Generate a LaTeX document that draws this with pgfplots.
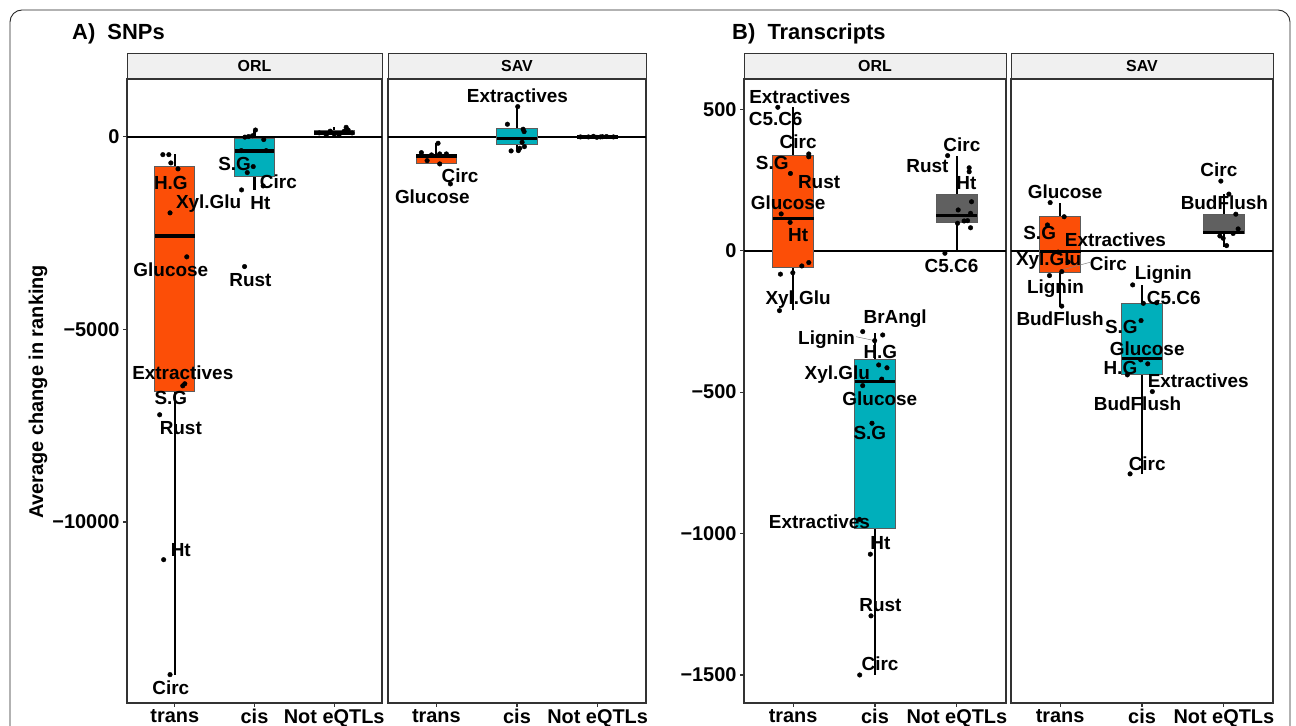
\documentclass[border=0pt]{standalone}
\usepackage{pgfplots}
\pgfplotsset{compat=1.18}
\usepackage{fontspec}
\setmainfont{Liberation Sans}
\definecolor{ctrans}{HTML}{FC4E07}
\definecolor{ccis}{HTML}{00AFBB}
\definecolor{cnot}{HTML}{606060}
\definecolor{stripbg}{HTML}{F0F0F0}
\definecolor{frame}{HTML}{333333}

\pgfplotsset{
  facet/.style={
    scale only axis, clip=false,
    xmin=0.4, xmax=3.6, scaled y ticks=false,
    xtick={1,2,3}, xticklabels={trans,cis,Not eQTLs},
    tick pos=left, tick align=outside, major tick length=4bp,
    axis line style={frame, line width=1.1bp},
    every tick/.style={frame, line width=1.1bp},
    tick label style={font=\bfseries\fontsize{20}{24}\selectfont, text=black},
    xticklabel style={yshift=1bp},
  },
  pts/.style={only marks, mark=*, mark size=2.3bp, black},
  zline/.style={black, line width=2.2bp},
}
\tikzset{strip/.style={fill=stripbg, draw=frame, line width=1bp},
  lbl/.style={font=\bfseries\fontsize{19}{22}\selectfont, inner sep=0pt, text=black}}
% box: position, left edge, right edge, lower whisker, Q1, median, Q3, upper whisker, fill
\newcommand{\bx}[9]{%
  \addplot[black, line width=2.2bp] coordinates {(#1,#4) (#1,#5)};
  \addplot[black, line width=2.2bp] coordinates {(#1,#7) (#1,#8)};
  \addplot[fill=#9, draw=frame!80, line width=1bp] coordinates {(#2,#5) (#3,#5) (#3,#7) (#2,#7)} -- cycle;
  \addplot[black, line width=3.2bp] coordinates {(#2,#6) (#3,#6)};
}

\begin{document}
\begin{tikzpicture}[x=1bp,y=1bp]
\useasboundingbox (0,0) rectangle (1296,726);
\draw[black!85, line width=0.9bp, rounded corners=12bp] (10,-30) -- (10,716) -- (1290,716) -- (1290,-30);

% ---------- A) SNPs, ORL ----------
\begin{axis}[facet, name=aorl, at={(127bp,23bp)}, anchor=south west, width=255bp, height=624bp,
  ymin=-14700, ymax=1505, ytick={-10000,-5000,0}, yticklabels={−10000,−5000,0}]
\addplot[zline] coordinates {(0.4,0) (3.6,0)};
\bx{1}{0.75}{1.25}{-13963}{-6623}{-2571}{-779}{-450}{ctrans}
\bx{2}{1.75}{2.25}{-1376}{-1030}{-363}{-52}{180}{ccis}
\bx{3}{2.75}{3.25}{0}{52}{104}{164}{268}{cnot}
\addplot[pts] coordinates {(0.85,-460) (0.925,-460) (0.95,-675) (1.04,-830) (0.94,-1972) (1.15,-3114) (1.125,-6410) (1.1,-6463) (0.81,-7215) (0.86,-10978) (0.94,-13963)};
\addplot[pts] coordinates {(1.879,-5) (1.925,10) (1.975,30) (2.0125,180) (2.116,-68) (1.834,-355) (2.146,-355) (1.984,-770) (1.909,-926) (1.8375,-1376) (1.875,-3366) (2.109,-1272)};
\addplot[pts] coordinates {(2.8125,104) (2.9,52) (3.0,78) (3.06,52) (3.125,148) (3.15,250) (3.175,180) (3.225,104) (2.95,150)};
\node[lbl] at (axis cs:0.95,-1194) {H.G};
\node[lbl] at (axis cs:1.425,-1739) {Xyl.Glu};
\node[lbl] at (axis cs:0.95,-3452) {Glucose};
\node[lbl] at (axis cs:1.1,-6125) {Extractives};
\node[lbl] at (axis cs:0.95,-6774) {S.G};
\node[lbl] at (axis cs:1.075,-7553) {Rust};
\node[lbl] at (axis cs:1.075,-10719) {Ht};
\node[lbl] at (axis cs:0.95,-14300) {Circ};
\node[lbl] at (axis cs:1.75,-701) {S.G};
\node[lbl] at (axis cs:2.3,-1168) {Circ};
\node[lbl] at (axis cs:2.075,-1713) {Ht};
\node[lbl] at (axis cs:1.95,-3711) {Rust};
\end{axis}

% ---------- A) SNPs, SAV ----------
\begin{axis}[facet, name=asav, at={(388bp,23bp)}, anchor=south west, width=258bp, height=624bp,
  ymin=-14700, ymax=1505, ytick=\empty]
\addplot[zline] coordinates {(0.4,0) (3.6,0)};
\bx{1}{0.75}{1.25}{-701}{-701}{-493}{-467}{-164}{ctrans}
\bx{2}{1.75}{2.25}{-363}{-190}{-34}{225}{787}{ccis}
\bx{3}{2.75}{3.25}{-20}{-8}{0}{10}{20}{cnot}
\addplot[pts] coordinates {(0.814,-407) (0.885,-615) (1.021,-164) (1.041,-441) (1.041,-701) (1.174,-1220) (0.94,-467) (1.124,-441)};
\addplot[pts] coordinates {(2.009,787) (1.881,330) (2.076,200) (2.088,138) (2.063,-138) (2.092,-252) (2.034,-294) (2.017,-355) (1.927,-363)};
\addplot[pts] coordinates {(2.787,0) (2.886,0) (2.948,15) (3.035,0) (3.11,10) (3.196,0) (2.99,-10) (3.06,5)};
\node[lbl] at (axis cs:1.294,-1004) {Circ};
\node[lbl] at (axis cs:0.95,-1565) {Glucose};
\node[lbl] at (axis cs:2.005,1064) {Extractives};
\end{axis}

% ---------- B) Transcripts, ORL ----------
\begin{axis}[facet, name=borl, at={(744bp,23bp)}, anchor=south west, width=262bp, height=624bp,
  ymin=-1599, ymax=607, ytick={-1500,-1000,-500,0,500}, yticklabels={−1500,−1000,−500,0,500}]
\addplot[zline] coordinates {(0.4,0) (3.6,0)};
\bx{1}{0.75}{1.25}{-210}{-60}{115}{338}{507}{ctrans}
\bx{2}{1.75}{2.25}{-1500}{-981}{-463}{-383}{-290}{ccis}
\bx{3}{2.75}{3.25}{0}{99}{123}{200}{335}{cnot}
\addplot[pts] coordinates {(0.813,507) (1.191,342) (1.191,332) (0.967,273) (0.854,130) (0.963,100) (1.191,-42) (1.106,-54) (0.845,-83) (0.996,-78) (0.833,-212)};
\addplot[pts] coordinates {(1.85,-286) (2.094,-298) (1.996,-318) (2.045,-404) (2.146,-414) (2.082,-454) (1.85,-477) (1.963,-610) (1.81,-950) (1.943,-1073) (1.951,-1291) (1.813,-1500)};
\addplot[pts] coordinates {(2.887,336) (3.15,293) (3.15,279) (3.179,173) (3.016,144) (3.167,132) (3.008,97) (3.088,105) (3.13,106) (3.167,81) (2.854,-9)};
\addplot[gray, line width=0.5bp] coordinates {(1.768,-304) (1.996,-318)};
\node[lbl] at (axis cs:1.082,544) {Extractives};
\node[lbl] at (axis cs:0.787,466) {C5.C6};
\node[lbl] at (axis cs:1.061,385) {Circ};
\node[lbl] at (axis cs:0.744,311) {S.G};
\node[lbl] at (axis cs:1.317,244) {Rust};
\node[lbl] at (axis cs:0.939,170) {Glucose};
\node[lbl] at (axis cs:1.061,56) {Ht};
\node[lbl] at (axis cs:1.061,-172) {Xyl.Glu};
\node[lbl] at (axis cs:2.246,-239) {BrAngl};
\node[lbl] at (axis cs:1.409,-313) {Lignin};
\node[lbl] at (axis cs:2.065,-359) {H.G};
\node[lbl] at (axis cs:1.54,-439) {Xyl.Glu};
\node[lbl] at (axis cs:2.059,-522) {Glucose};
\node[lbl] at (axis cs:1.937,-646) {S.G};
\node[lbl] at (axis cs:1.321,-958) {Extractives};
\node[lbl] at (axis cs:2.065,-1034) {Ht};
\node[lbl] at (axis cs:2.067,-1253) {Rust};
\node[lbl] at (axis cs:2.061,-1461) {Circ};
\node[lbl] at (axis cs:3.061,374) {Circ};
\node[lbl] at (axis cs:2.64,299) {Rust};
\node[lbl] at (axis cs:3.116,238) {Ht};
\node[lbl] at (axis cs:2.935,-53) {C5.C6};
\end{axis}

% ---------- B) Transcripts, SAV ----------
\begin{axis}[facet, name=bsav, at={(1011bp,23bp)}, anchor=south west, width=262bp, height=624bp,
  ymin=-1599, ymax=607, ytick=\empty]
\addplot[zline] coordinates {(0.4,0) (3.6,0)};
\bx{1}{0.75}{1.25}{-198}{-77}{-3}{120}{168}{ctrans}
\bx{2}{1.75}{2.25}{-790}{-439}{-380}{-186}{-121}{ccis}
\bx{3}{2.75}{3.25}{14}{61}{64}{129}{200}{cnot}
\addplot[pts] coordinates {(0.878,170) (1.049,120) (0.845,91) (1.02,-74) (0.87,-88) (1.02,-196) (0.976,-5) (1.098,-40)};
\addplot[pts] coordinates {(1.886,-121) (2.016,-186) (2.179,-184) (1.988,-247) (1.984,-386) (1.821,-439) (2.126,-498) (1.854,-789) (2.07,-400)};
\addplot[pts] coordinates {(2.963,246) (3.061,200) (3.146,129) (3.174,77) (2.951,52) (2.991,44) (3.113,61) (3.033,18)};
\addplot[gray, line width=0.5bp] coordinates {(1.366,-41) (1.02,-68)};
\node[lbl] at (axis cs:1.061,209) {Glucose};
\node[lbl] at (axis cs:0.75,61) {S.G};
\node[lbl] at (axis cs:1.675,38) {Extractives};
\node[lbl] at (axis cs:0.86,-35) {Xyl.Glu};
\node[lbl] at (axis cs:1.589,-47) {Circ};
\node[lbl] at (axis cs:0.943,-133) {Lignin};
\node[lbl] at (axis cs:1.0,-239) {BudFlush};
\node[lbl] at (axis cs:2.26,-86) {Lignin};
\node[lbl] at (axis cs:2.387,-168) {C5.C6};
\node[lbl] at (axis cs:1.748,-269) {S.G};
\node[lbl] at (axis cs:2.063,-345) {Glucose};
\node[lbl] at (axis cs:1.736,-416) {H.G};
\node[lbl] at (axis cs:2.687,-460) {Extractives};
\node[lbl] at (axis cs:1.945,-542) {BudFlush};
\node[lbl] at (axis cs:2.063,-752) {Circ};
\node[lbl] at (axis cs:2.939,285) {Circ};
\node[lbl] at (axis cs:3.006,168) {BudFlush};
\end{axis}

% ---------- strips ----------
\foreach \ax/\txt in {aorl/ORL, asav/SAV, borl/ORL, bsav/SAV}{
  \draw[strip] (\ax.north west) rectangle ([yshift=25bp]\ax.north east);
  \node[font=\bfseries\fontsize{16}{18}\selectfont, inner sep=0pt] at ([yshift=12.5bp]\ax.north) {\txt};
}

% ---------- titles and label ----------
\node[anchor=west, font=\bfseries\fontsize{22}{26}\selectfont, inner sep=0pt] at (72bp,692bp) {A)\ \ SNPs};
\node[anchor=west, font=\bfseries\fontsize{22}{26}\selectfont, inner sep=0pt] at (732bp,692bp) {B)\ \ Transcripts};
\node[rotate=90, font=\bfseries\fontsize{20}{24}\selectfont, inner sep=0pt] at (38bp,334bp) {Average change in ranking};
\end{tikzpicture}
\end{document}
